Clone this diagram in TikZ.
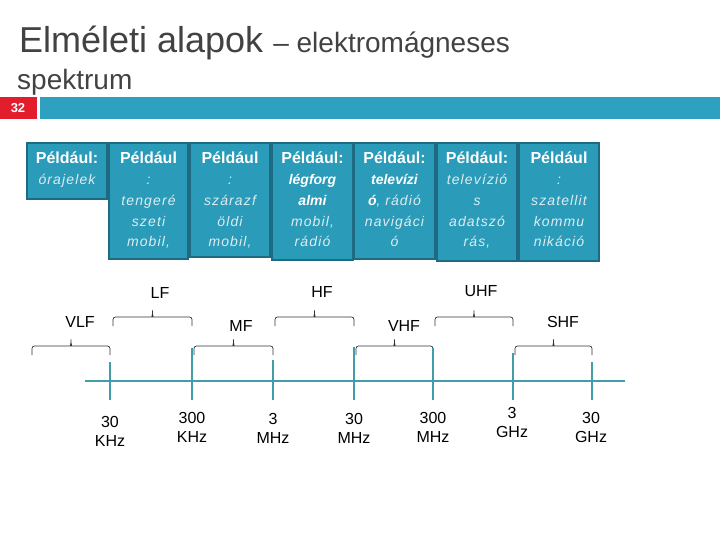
\documentclass[tikz,border=0pt]{standalone}
\usepackage{fontspec}
\setmainfont{Liberation Sans}
\definecolor{slideTeal}{RGB}{46,160,192}
\definecolor{slideRed}{RGB}{226,30,45}
\definecolor{boxFill}{RGB}{42,155,185}
\definecolor{boxEdge}{RGB}{30,106,130}
\definecolor{boxItalic}{RGB}{222,236,241}
\definecolor{axisTeal}{RGB}{64,158,172}
\definecolor{titleGray}{RGB}{66,66,66}
\newcommand{\pExHead}[1]{{\fontsize{16}{20.75}\selectfont\bfseries #1}}
\newcommand{\pExLine}[1]{{\color{boxItalic}\itshape\addfontfeature{LetterSpace=8}#1}}
\newcommand{\pExBold}[1]{{\color{white}\itshape\bfseries #1}}
% bracket over one band: left x, right x, base y
\newcommand{\pBand}[3]{%
  \pgfmathsetmacro{\pBandMid}{(#1+#2)/2}%
  \draw[band brace] (#1,#3) |- (\pBandMid-3,#3-9)
    .. controls (\pBandMid-1,#3-9) and (\pBandMid,#3-11) .. (\pBandMid,#3-17)
    .. controls (\pBandMid,#3-11) and (\pBandMid+1,#3-9) .. (\pBandMid+3,#3-9) -| (#2,#3);}

\begin{document}
\begin{tikzpicture}[x=1pt,y=-1pt,
  example box/.style={draw=boxEdge, fill=boxFill, line width=2.2pt, inner sep=0pt},
  example text/.style={anchor=base, inner sep=0pt, text width=76pt, align=center, text=white, font={\fontsize{14}{20.75}\selectfont}},
  band brace/.style={draw=black!80, line width=0.7pt, rounded corners=2.5pt},
  band label/.style={inner sep=0pt, font={\fontsize{16}{18}\selectfont}},
  freq label/.style={anchor=base, inner sep=0pt, text width=50pt, align=center, font={\fontsize{16}{19.5}\selectfont}},
  axis line/.style={draw=axisTeal, line width=1.1pt}]
\useasboundingbox[fill=white] (0,0) rectangle (720,540);
% title
\node[anchor=base west, inner sep=0pt, text=titleGray] (title) at (19,53) {\fontsize{36}{40}\selectfont Elméleti alapok {\fontsize{28}{32}\selectfont – elektromágneses}};
\node[anchor=base west, inner sep=0pt, text=titleGray] (title2) at (17,90) {\fontsize{28}{32}\selectfont spektrum};
\fill[slideRed] (0,97) rectangle (37,119);
\fill[slideTeal] (40,97) rectangle (720,119);
\node[text=white, font={\fontsize{13}{14}\selectfont\bfseries}] (slideno) at (18,108) {32};
% example boxes
\node[example box, minimum width=80pt, minimum height=56pt] (ex1) at (67,171) {};
\node[example text] (ex1t) at ([yshift=-22pt]ex1.north) {\pExHead{Például:}\\\pExLine{órajelek}};
\node[example box, minimum width=79pt, minimum height=116pt] (ex2) at (148.5,201) {};
\node[example text] (ex2t) at ([yshift=-22pt]ex2.north) {\pExHead{Például}\\\pExLine{:}\\\pExLine{tengeré}\\\pExLine{szeti}\\\pExLine{mobil,}};
\node[example box, minimum width=80pt, minimum height=114pt] (ex3) at (230,200) {};
\node[example text] (ex3t) at ([yshift=-22pt]ex3.north) {\pExHead{Például}\\\pExLine{:}\\\pExLine{szárazf}\\\pExLine{öldi}\\\pExLine{mobil,}};
\node[example box, minimum width=81pt, minimum height=117pt] (ex4) at (312.5,201.5) {};
\node[example text] (ex4t) at ([yshift=-22pt]ex4.north) {\pExHead{Például:}\\\pExBold{légforg}\\\pExBold{almi}\\\pExLine{mobil,}\\\pExLine{rádió}};
\node[example box, minimum width=81pt, minimum height=116pt] (ex5) at (394.5,201) {};
\node[example text] (ex5t) at ([yshift=-22pt]ex5.north) {\pExHead{Például:}\\\pExBold{televízi}\\\pExBold{ó}\pExLine{, rádió}\\\pExLine{navigáci}\\\pExLine{ó}};
\node[example box, minimum width=80pt, minimum height=118pt] (ex6) at (477,202) {};
\node[example text] (ex6t) at ([yshift=-22pt]ex6.north) {\pExHead{Például:}\\\pExLine{televízió}\\\pExLine{s}\\\pExLine{adatszó}\\\pExLine{rás,}};
\node[example box, minimum width=80pt, minimum height=118pt] (ex7) at (559,202) {};
\node[example text] (ex7t) at ([yshift=-22pt]ex7.north) {\pExHead{Például}\\\pExLine{:}\\\pExLine{szatellit}\\\pExLine{kommu}\\\pExLine{nikáció}};
% bands
\pBand{32}{110}{355}
\pBand{113}{192}{326}
\pBand{194}{273}{355}
\pBand{275}{354}{326}
\pBand{356}{433}{355}
\pBand{435}{513}{326}
\pBand{515}{592}{355}
\node[band label] (vlf) at (80,322) {VLF};
\node[band label] (lf) at (160,293) {LF};
\node[band label] (mf) at (241,326) {MF};
\node[band label] (hf) at (322,292) {HF};
\node[band label] (vhf) at (404,326) {VHF};
\node[band label] (uhf) at (481,291) {UHF};
\node[band label] (shf) at (563,322) {SHF};
% frequency axis
\draw[axis line] (85,381) -- (625,381);
\draw[axis line] (110,362) -- (110,400);
\draw[axis line] (192,348) -- (192,400);
\draw[axis line] (273,360) -- (273,400);
\draw[axis line] (354,347) -- (354,400);
\draw[axis line] (433,348) -- (433,400);
\draw[axis line] (513,353) -- (513,400);
\draw[axis line] (592,362) -- (592,400);
\node[freq label] (f30k) at (110,427) {30\\KHz};
\node[freq label] (f300k) at (192,423) {300\\KHz};
\node[freq label] (f3m) at (273,424) {3\\MHz};
\node[freq label] (f30m) at (354,424) {30\\MHz};
\node[freq label] (f300m) at (433,423) {300\\MHz};
\node[freq label] (f3g) at (512,418) {3\\GHz};
\node[freq label] (f30g) at (591,423) {30\\GHz};
\end{tikzpicture}
\end{document}
